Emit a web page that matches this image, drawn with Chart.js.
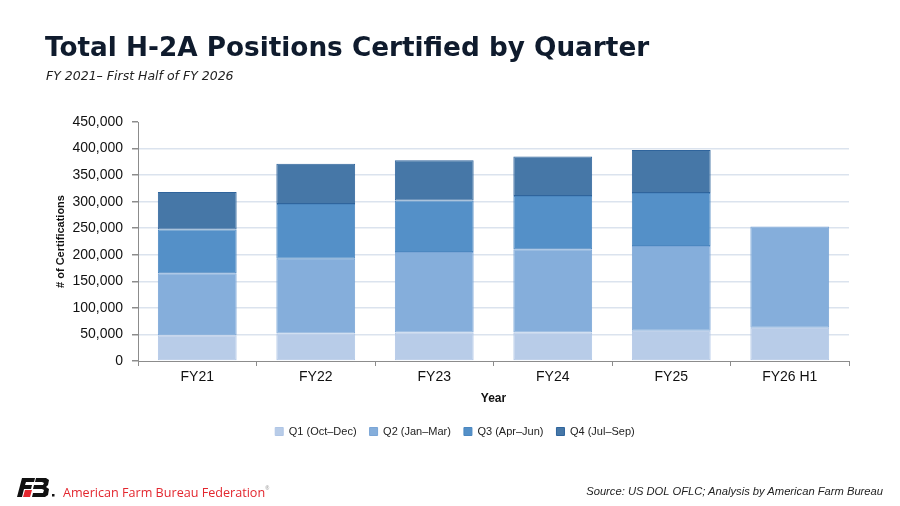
<!DOCTYPE html>
<html>
<head>
<meta charset="utf-8">
<script src="https://cdn.jsdelivr.net/npm/chart.js@4"></script>
<style>
  html, body { margin: 0; padding: 0; background: #fff; }
  #wrap { position: relative; width: 900px; height: 506px; overflow: hidden; }
  #c { position: absolute; left: 0; top: 0; }
  #title { position: absolute; left: 45px; top: 30px; font: bold 26.3px "DejaVu Sans", Verdana, sans-serif; color: #0f1b2d; white-space: nowrap; line-height: 34px; }
  #sub { position: absolute; left: 46px; top: 68px; font: italic 12.5px "DejaVu Sans", Verdana, sans-serif; color: #222; white-space: nowrap; line-height: 16px; }
  #org { position: absolute; left: 63px; top: 479px; font: 12.6px "Open Sans", sans-serif; color: #e3262e; white-space: nowrap; line-height: 18px; }
  #org sup { font-size: 5px; vertical-align: 7px; color: #999; }
  #src { position: absolute; right: 17px; top: 484px; font: italic 11.2px "Liberation Sans", Arial, sans-serif; color: #222; white-space: nowrap; line-height: 14px; }
  #logo { position: absolute; left: 17px; top: 478px; }
</style>
</head>
<body>
<div id="wrap">
  <canvas id="c" width="900" height="506"></canvas>
  <div id="title">Total H-2A Positions Certified by Quarter</div>
  <div id="sub">FY 2021– First Half of FY 2026</div>
  <svg id="logo" width="40" height="20" viewBox="0 0 40 20">
    <polygon points="5,0 18,0 17,4 9,4 8,7 15,7 14,11 7,11 5,19 0,19" fill="#111"/>
    <polygon points="19,0 29,0 32,2 31,7 29,9 32,11 31,17 28,19 15,19 16,15 26,15 27,12 25,11 16,11 17,7 26,7 27,5 25,4 18,4" fill="#111"/>
    <polygon points="8,12 15,12 13,19 6,19" fill="#e3262e"/>
    <rect x="35" y="16" width="2.5" height="2.5" fill="#111"/>
  </svg>
  <div id="org">American Farm Bureau Federation<sup>®</sup></div>
  <div id="src">Source: US DOL OFLC; Analysis by American Farm Bureau</div>
</div>
<script>
const categories = ['FY21', 'FY22', 'FY23', 'FY24', 'FY25', 'FY26 H1'];
const q1 = [48700, 51700, 53600, 53600, 56800, 62500];
const q2 = [116600, 140900, 151500, 156600, 159700, 190700];
const q3 = [82200, 102900, 97300, 100400, 99800, null];
const q4 = [70700, 75700, 75800, 74400, 80800, null];
const seriesNames = ['Q1 (Oct–Dec)', 'Q2 (Jan–Mar)', 'Q3 (Apr–Jun)', 'Q4 (Jul–Sep)'];
const yTicks = [0, 50000, 100000, 150000, 200000, 250000, 300000, 350000, 400000, 450000];

const fills = ['#b8cce8', '#85aedb', '#5490c8', '#4677a7'];
const edges = ['#b0c6e6', '#7aa5d6', '#4b87c0', '#2f649c'];

const ds = [q1, q2, q3, q4].map((d, i) => ({
  label: seriesNames[i],
  data: d,
  backgroundColor: fills[i],
  borderColor: edges[i],
  borderWidth: 1,
  borderSkipped: false,
  barPercentage: 0.665,
  categoryPercentage: 1.0
}));

new Chart(document.getElementById('c'), {
  type: 'bar',
  data: { labels: categories, datasets: ds },
  options: {
    responsive: false,
    animation: false,
    devicePixelRatio: 1,
    layout: { padding: { left: 61, right: 51, top: 122, bottom: 59 } },
    plugins: {
      tooltip: { enabled: false },
      legend: {
        position: 'bottom',
        labels: {
          boxWidth: 8, boxHeight: 8, padding: 13,
          color: '#222',
          font: { family: '"Liberation Sans", Arial, sans-serif', size: 11 }
        }
      }
    },
    scales: {
      x: {
        stacked: true,
        afterFit: s => { s.height = 52; },
        grid: { drawOnChartArea: false, tickLength: 5, tickColor: '#8c8c8c', offset: true },
        border: { color: '#8c8c8c' },
        ticks: { color: '#111', padding: 3, font: { family: '"Liberation Sans", Arial, sans-serif', size: 14 } },
        title: { display: true, text: 'Year', color: '#111', padding: { top: 0, bottom: 7 },
                 font: { family: '"Liberation Sans", Arial, sans-serif', size: 12, weight: 'bold' } }
      },
      y: {
        stacked: true,
        min: 0, max: 450000,
        afterFit: s => { s.width = 77; },
        afterBuildTicks: s => { s.ticks = yTicks.map(v => ({ value: v })); },
        grid: {
          color: ctx => (ctx.tick && (ctx.tick.value === 450000 || ctx.tick.value === 0)) ? 'rgba(0,0,0,0)' : '#dbe3ee',
          lineWidth: 1.5,
          tickLength: 6, tickColor: '#8c8c8c'
        },
        border: { color: '#8c8c8c' },
        ticks: {
          color: '#111', padding: 9,
          font: { family: '"Liberation Sans", Arial, sans-serif', size: 14 },
          callback: v => v.toLocaleString('en-US')
        },
        title: { display: true, text: '# of Certifications', color: '#111', padding: { top: -7, bottom: 4 },
                 font: { family: '"Liberation Sans", Arial, sans-serif', size: 11, weight: 'bold' } }
      }
    }
  }
});
</script>
</body>
</html>
